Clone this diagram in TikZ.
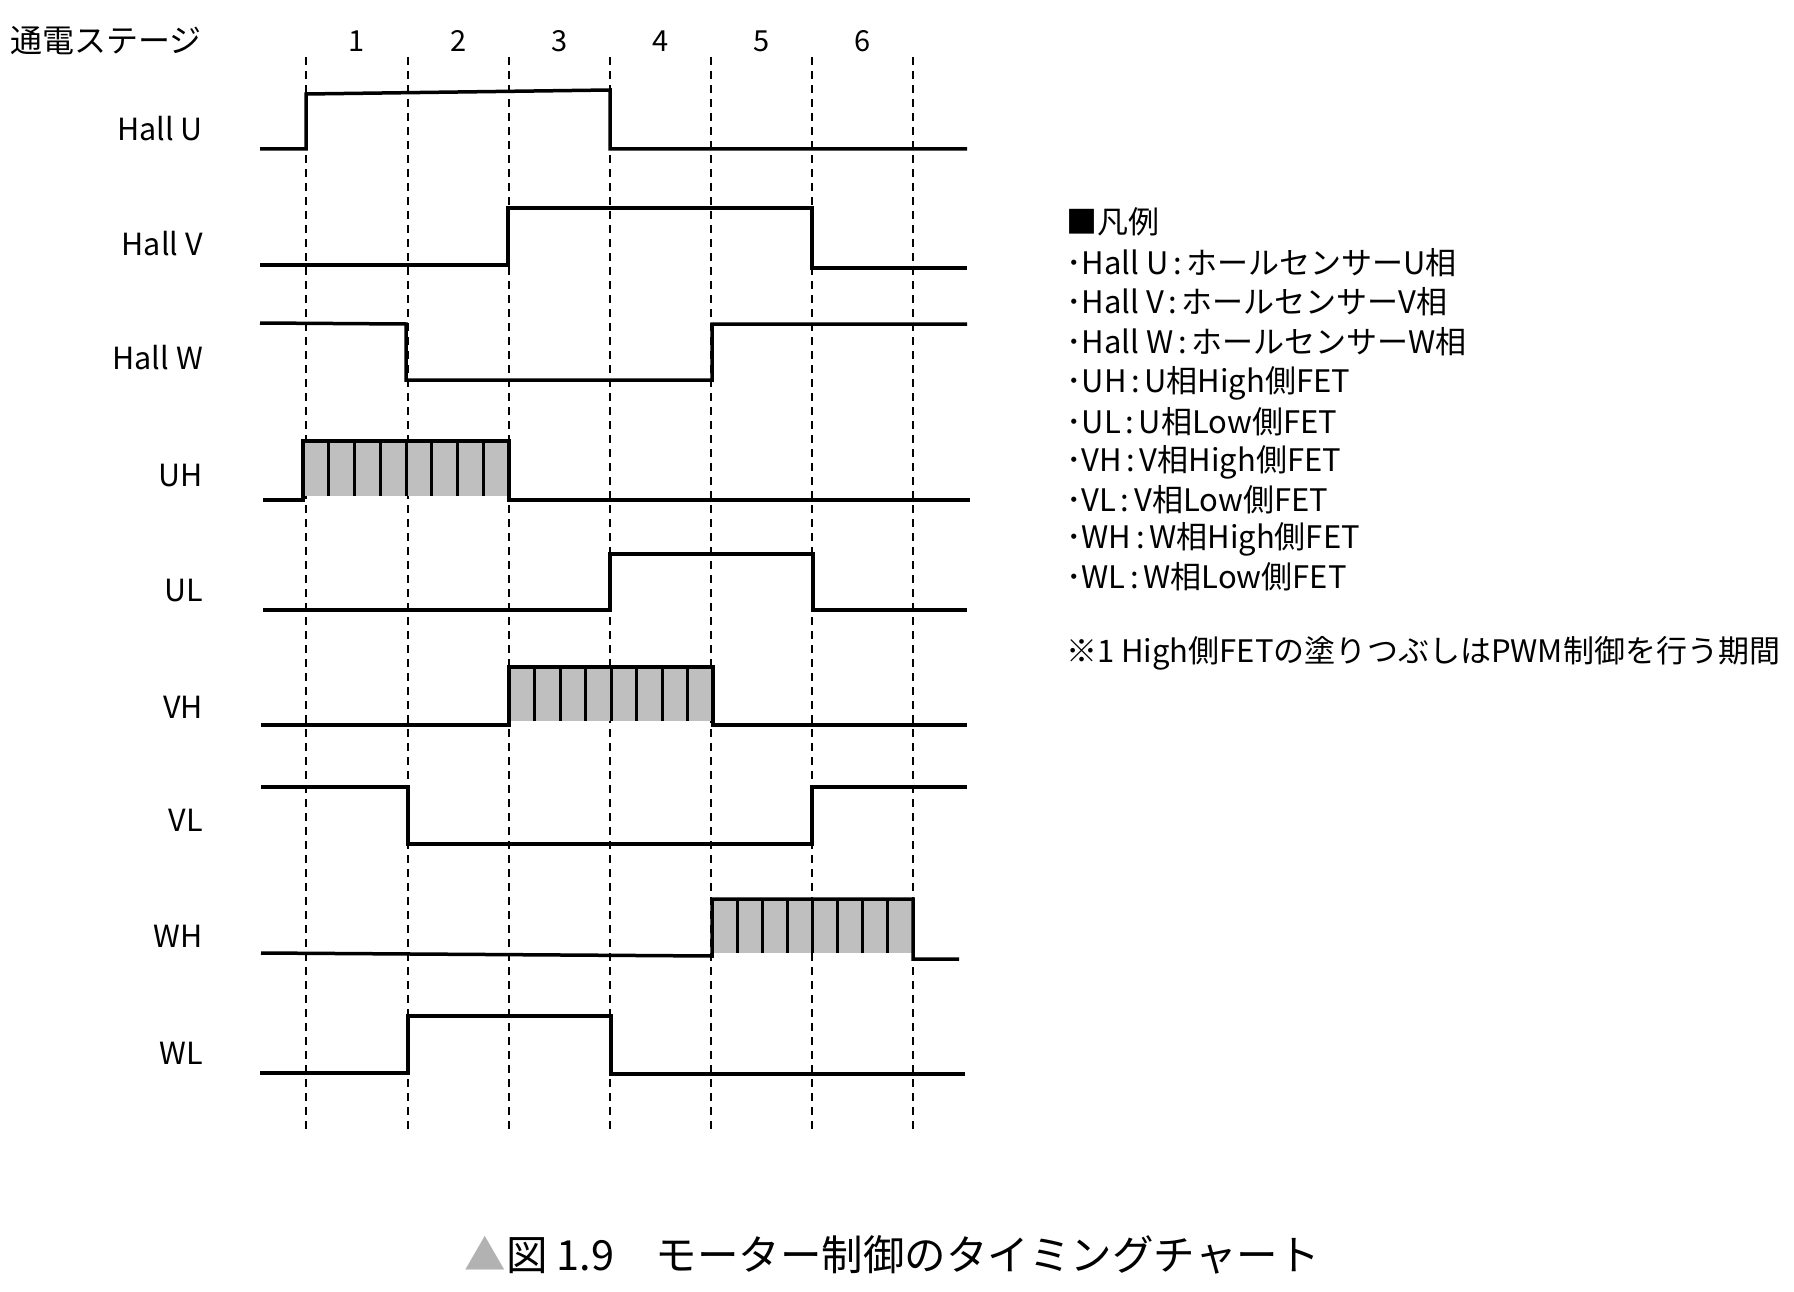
\documentclass[tikz,border=0pt]{standalone}
\usepackage{fontspec}
\setmainfont{Noto Sans CJK JP}
\newcommand{\lgc}{\kern0.15em:\kern0.15em}
\begin{document}
\begin{tikzpicture}[x=1pt,y=-1pt,
  wave/.style={line width=3.5pt,line join=miter,line cap=butt},
  stagegrid/.style={line width=1.8pt,dash pattern=on 8pt off 6pt},
  pwmfill/.style={fill=black!25},
  pwmtick/.style={line width=3pt},
  sig/.style={anchor=east,inner sep=0pt,font=\fontsize{30.5}{34}\selectfont},
  stg/.style={inner sep=0pt,font=\fontsize{29}{32}\selectfont},
  leg/.style={anchor=west,inner sep=0pt,font=\fontsize{31}{36}\selectfont},
  captext/.style={inner sep=0pt,font=\fontsize{41.5}{48}\selectfont}]
\useasboundingbox (0,0) rectangle (1794,1292);
% dashed stage boundaries
\foreach \x in {306,408,509,610,711,812,913}
  \draw[stagegrid] (\x,57) -- (\x,1133);
% stage header
\node[anchor=west,inner sep=0pt,font=\fontsize{32}{36}\selectfont] (hdr) at (10,41) {通電ステージ};
\node[stg] (s1) at (357,41) {1};
\node[stg] (s2) at (459,41) {2};
\node[stg] (s3) at (560,41) {3};
\node[stg] (s4) at (661,41) {4};
\node[stg] (s5) at (762,41) {5};
\node[stg] (s6) at (863,41) {6};
% signal labels
\node[sig] (lhu) at (203,129) {Hall U};
\node[sig] (lhv) at (203,244) {Hall V};
\node[sig] (lhw) at (203,358) {Hall W};
\node[sig] (luh) at (203,476) {UH};
\node[sig] (lul) at (203,591) {UL};
\node[sig] (lvh) at (203,707) {VH};
\node[sig] (lvl) at (203,820) {VL};
\node[sig] (lwh) at (203,936) {WH};
\node[sig] (lwl) at (203,1053) {WL};
% PWM blocks
\fill[pwmfill] (303,441) rectangle (509,496);
\foreach \k in {1,...,7} \draw[pwmtick] ({303+\k*25.75},441) -- ({303+\k*25.75},496);
\fill[pwmfill] (509,667) rectangle (713,721);
\foreach \k in {1,...,7} \draw[pwmtick] ({509+\k*25.5},667) -- ({509+\k*25.5},721);
\fill[pwmfill] (712,899) rectangle (913,953);
\foreach \k in {1,...,7} \draw[pwmtick] ({712+\k*25.125},899) -- ({712+\k*25.125},953);
% waveforms
\draw[wave] (260,149) -- (306,149) -- (306,94) -- (610,90) -- (610,149) -- (967,149);
\draw[wave] (260,265) -- (508,265) -- (508,208) -- (812,208) -- (812,268) -- (967,268);
\draw[wave] (260,323) -- (406,324) -- (406,380) -- (712,380) -- (712,324) -- (967,324);
\draw[wave] (263,500) -- (303,500) -- (303,441) -- (509,441) -- (509,500) -- (970,500);
\draw[wave] (263,610) -- (610,610) -- (610,554) -- (813,554) -- (813,610) -- (967,610);
\draw[wave] (261,725) -- (509,725) -- (509,667) -- (713,667) -- (713,725) -- (967,725);
\draw[wave] (261,787) -- (408,787) -- (408,844) -- (812,844) -- (812,787) -- (967,787);
\draw[wave] (261,953) -- (712,956) -- (712,899) -- (913,899) -- (913,959) -- (959,959);
\draw[wave] (260,1073) -- (408,1073) -- (408,1016) -- (611,1016) -- (611,1074) -- (965,1074);
% legend
\node[leg] (lg0) at (1066,222) {■凡例};
\node[leg] (lg1) at (1066,263) {･Hall U\lgc ホールセンサーU相};
\node[leg] (lg2) at (1066,302) {･Hall V\lgc ホールセンサーV相};
\node[leg] (lg3) at (1066,342) {･Hall W\lgc ホールセンサーW相};
\node[leg] (lg4) at (1066,383) {･UH\lgc U相High側FET};
\node[leg] (lg5) at (1066,422) {･UL\lgc U相Low側FET};
\node[leg] (lg6) at (1066,462) {･VH\lgc V相High側FET};
\node[leg] (lg7) at (1066,500) {･VL\lgc V相Low側FET};
\node[leg] (lg8) at (1066,539) {･WH\lgc W相High側FET};
\node[leg] (lg9) at (1066,577) {･WL\lgc W相Low側FET};
\node[leg] (note) at (1066,653) {※1 High側FETの塗りつぶしはPWM制御を行う期間};
% caption
\node[captext] (caption) at (892,1255) {{\color{black!30}▲}図 1.9　モーター制御のタイミングチャート};
\end{tikzpicture}
\end{document}
